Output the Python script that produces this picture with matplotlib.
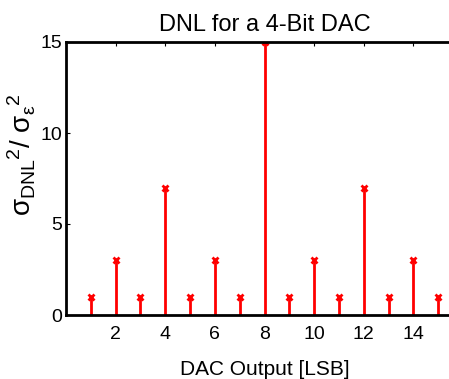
import matplotlib
matplotlib.use("Agg")
import matplotlib.pyplot as plt

plt.rcParams['font.family'] = ['Liberation Sans', 'DejaVu Sans']
plt.rcParams['mathtext.fontset'] = 'custom'
plt.rcParams['mathtext.rm'] = 'Liberation Sans'
plt.rcParams['mathtext.it'] = 'Liberation Sans'

codes = [1, 2, 3, 4, 5, 6, 7, 8, 9, 10, 11, 12, 13, 14, 15]
dnl_var = [1, 3, 1, 7, 1, 3, 1, 15, 1, 3, 1, 7, 1, 3, 1]

fig = plt.figure(figsize=(4.49, 3.79), dpi=100)
ax = fig.add_axes([66 / 449, 64 / 379, 397 / 449, 273 / 379])

ml, sl, bl = ax.stem(codes, dnl_var, linefmt='r-', markerfmt='rx', basefmt=' ')
plt.setp(sl, linewidth=2)
plt.setp(ml, markersize=4, markeredgewidth=2)

ax.set_xlim(0, 16)
ax.set_ylim(0, 15)
ax.set_xticks([2, 4, 6, 8, 10, 12, 14])
ax.set_yticks([0, 5, 10, 15])
ax.tick_params(direction='in', top=True, right=True, labelsize=14, length=3)
ax.tick_params(axis='x', pad=8)
ax.tick_params(axis='y', pad=3)
for s in ax.spines.values():
    s.set_linewidth(2)

ax.set_title("DNL for a 4-Bit DAC", fontsize=17, pad=8)
ax.set_xlabel("DAC Output [LSB]", fontsize=15, labelpad=12)
ax.set_ylabel(r'$\sigma_{DNL}{}^{2}/\ \sigma_{\varepsilon}{}^{2}$', fontsize=20)
ax.yaxis.set_label_coords(-0.07, 0.586)

plt.savefig("out.png", dpi=100)
